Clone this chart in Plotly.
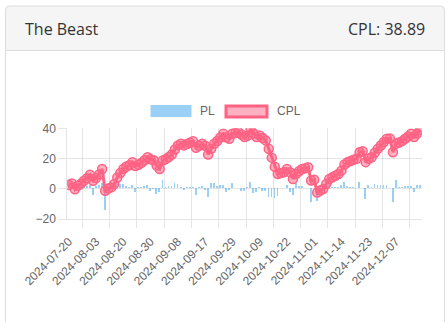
import plotly.graph_objects as go

W, H = 448, 322

dates = [
    "2024-07-20", "2024-07-21", "2024-07-23", "2024-07-24", "2024-07-26", "2024-07-27", "2024-07-29", "2024-07-30", "2024-08-01",
    "2024-08-03", "2024-08-05", "2024-08-07", "2024-08-09", "2024-08-11", "2024-08-13", "2024-08-15", "2024-08-16", "2024-08-18",
    "2024-08-20", "2024-08-21", "2024-08-22", "2024-08-23", "2024-08-24", "2024-08-26", "2024-08-27", "2024-08-28", "2024-08-29",
    "2024-08-30", "2024-08-31", "2024-09-01", "2024-09-02", "2024-09-03", "2024-09-04", "2024-09-05", "2024-09-06", "2024-09-07",
    "2024-09-08", "2024-09-09", "2024-09-10", "2024-09-11", "2024-09-12", "2024-09-13", "2024-09-14", "2024-09-15", "2024-09-16",
    "2024-09-17", "2024-09-18", "2024-09-19", "2024-09-21", "2024-09-22", "2024-09-23", "2024-09-25", "2024-09-26", "2024-09-27",
    "2024-09-29", "2024-09-30", "2024-10-01", "2024-10-02", "2024-10-03", "2024-10-04", "2024-10-05", "2024-10-07", "2024-10-08",
    "2024-10-09", "2024-10-10", "2024-10-12", "2024-10-13", "2024-10-15", "2024-10-16", "2024-10-17", "2024-10-19", "2024-10-20",
    "2024-10-22", "2024-10-23", "2024-10-24", "2024-10-25", "2024-10-26", "2024-10-28", "2024-10-29", "2024-10-30", "2024-10-31",
    "2024-11-01", "2024-11-02", "2024-11-04", "2024-11-05", "2024-11-07", "2024-11-08", "2024-11-09", "2024-11-11", "2024-11-12",
    "2024-11-14", "2024-11-15", "2024-11-16", "2024-11-17", "2024-11-18", "2024-11-19", "2024-11-20", "2024-11-21", "2024-11-22",
    "2024-11-23", "2024-11-25", "2024-11-26", "2024-11-28", "2024-11-29", "2024-12-01", "2024-12-02", "2024-12-04", "2024-12-05",
    "2024-12-07", "2024-12-08", "2024-12-09", "2024-12-10", "2024-12-11", "2024-12-12", "2024-12-13", "2024-12-14", "2024-12-15",
]

pl = [
    2.5, 1.0, -3.9, 2.4, 1.4, 1.9, 1.7, 2.3, -4.0, 1.8,
    2.3, 3.7, -14.4, 1.4, 0.8, 2.2, 4.4, 2.9, 2.7, 1.6,
    0.9, 2.0, -2.6, 0.9, 1.3, 1.7, 2.0, -1.4, -0.6, -3.5,
    -2.3, 5.6, 0.9, 1.4, 1.7, 3.3, 2.7, 1.1, -1.1, 0.9,
    0.8, 1.1, -4.4, 1.3, 1.4, -1.3, -5.8, 3.7, 3.4, 1.8,
    2.3, 2.5, -2.3, -1.0, 3.3, 0.5, 0.6, -1.6, -1.7, 0.8,
    4.6, -3.0, -2.4, 1.1, -1.7, -1.6, -5.6, -5.8, -6.0, -4.8,
    0.6, 0.5, 2.2, -2.1, -4.5, 3.3, 1.8, 1.5, 0.5, 0.6,
    -8.7, 0.5, -8.5, 1.3, 1.0, 3.3, 3.4, 1.1, 1.0, 1.2,
    2.2, 4.0, 1.5, 0.9, 0.8, 0.6, 4.4, 0.6, -7.2, 2.2,
    1.1, 2.9, 2.6, 2.2, 2.3, 2.2, 0.1, -9.0, 5.6, 0.8,
    0.9, 1.6, 1.5, 1.8, -2.2, 2.4, 2.29,
]

cpl = [
    2.5, 3.5, -0.4, 2.0, 3.4, 5.3, 7.0, 9.3, 5.3, 7.1,
    9.4, 13.1, -1.3, 0.1, 0.9, 3.1, 7.5, 10.4, 13.1, 14.7,
    15.6, 17.6, 15.0, 15.9, 17.2, 18.9, 20.9, 19.5, 18.9, 15.4,
    13.1, 18.7, 19.6, 21.0, 22.7, 26.0, 28.7, 29.8, 28.7, 29.6,
    30.4, 31.5, 27.1, 28.4, 29.8, 28.5, 22.7, 26.4, 29.8, 31.6,
    33.9, 36.4, 34.1, 33.1, 36.4, 36.9, 37.5, 35.9, 34.2, 35.0,
    39.6, 36.6, 34.2, 35.3, 33.6, 32.0, 26.4, 20.6, 14.6, 9.8,
    10.4, 10.9, 13.1, 11.0, 6.5, 9.8, 11.6, 13.1, 13.6, 14.2,
    5.5, 6.0, -2.5, -1.2, -0.2, 3.1, 6.5, 7.6, 8.6, 9.8,
    12.0, 16.0, 17.5, 18.4, 19.2, 19.8, 24.2, 24.8, 17.6, 19.8,
    20.9, 23.8, 26.4, 28.6, 30.9, 33.1, 33.2, 24.2, 29.8, 30.6,
    31.5, 33.1, 34.6, 36.4, 34.2, 36.6, 38.89,
]

y_ticks = [-20, 0, 20, 40]
label_step = 9
title_left = "The Beast"
title_right = "CPL: 38.89"
legend_names = ["PL", "CPL"]

BAR_COLOR = "rgba(54,162,235,0.5)"
LINE_COLOR = "rgb(255,99,132)"
LINE_FILL = "rgba(255,99,132,0.5)"
GRID = "rgba(0,0,0,0.1)"
TICKFONT = dict(family="Liberation Sans, Arial, sans-serif", size=12, color="#666")

idx = list(range(len(dates)))


def px(x):
    return x / W


def py(y):
    return 1 - y / H


fig = go.Figure()
fig.add_trace(go.Bar(x=idx, y=pl, name=legend_names[0], marker_color=BAR_COLOR,
                     marker_line_width=0, width=0.6))
fig.add_trace(go.Scatter(x=idx, y=cpl, name=legend_names[1], mode="lines+markers",
                         line=dict(color=LINE_COLOR, width=3),
                         marker=dict(size=9, color=LINE_FILL,
                                     line=dict(color=LINE_COLOR, width=1.5))))

x0p, x1p = 67.3, 421.7
ytop, ybot = 128.3, 219.0

shapes = []
r = 4
card_path = (f"M {px(5.5)},{py(340)} L {px(5.5)},{py(6+r)} Q {px(5.5)},{py(6)} {px(5.5+r)},{py(6)} "
             f"L {px(444.5-r)},{py(6)} Q {px(444.5)},{py(6)} {px(444.5)},{py(6+r)} L {px(444.5)},{py(340)}")
header_path = (f"M {px(5.5)},{py(50.5)} L {px(5.5)},{py(6+r)} Q {px(5.5)},{py(6)} {px(5.5+r)},{py(6)} "
               f"L {px(444.5-r)},{py(6)} Q {px(444.5)},{py(6)} {px(444.5)},{py(6+r)} L {px(444.5)},{py(50.5)} Z")
shapes.append(dict(type="path", xref="paper", yref="paper", path=header_path,
                   fillcolor="#f5f5f5", line=dict(width=0), layer="below"))
shapes.append(dict(type="path", xref="paper", yref="paper", path=card_path,
                   line=dict(color="#dddddd", width=1), layer="below"))
shapes.append(dict(type="line", xref="paper", yref="paper", x0=px(5.5), x1=px(444.5),
                   y0=py(50.5), y1=py(50.5), line=dict(color="#dddddd", width=1), layer="below"))
shapes.append(dict(type="rect", xref="paper", yref="paper", x0=px(150.5), x1=px(191.5),
                   y0=py(105), y1=py(117), fillcolor=BAR_COLOR, line=dict(width=0)))
shapes.append(dict(type="rect", xref="paper", yref="paper", x0=px(226), x1=px(267),
                   y0=py(106), y1=py(117), fillcolor=LINE_FILL, line=dict(color=LINE_COLOR, width=3)))

annotations = [
    dict(text=title_left, xref="paper", yref="paper", x=px(23), y=py(29), xanchor="left",
         yanchor="middle", showarrow=False,
         font=dict(family="Open Sans, sans-serif", size=16, color="#333")),
    dict(text=title_right, xref="paper", yref="paper", x=px(427), y=py(29), xanchor="right",
         yanchor="middle", showarrow=False,
         font=dict(family="Open Sans, sans-serif", size=16, color="#333")),
    dict(text=legend_names[0], xref="paper", yref="paper", x=px(198), y=py(111), xanchor="left",
         yanchor="middle", showarrow=False, font=TICKFONT),
    dict(text=legend_names[1], xref="paper", yref="paper", x=px(274.5), y=py(111), xanchor="left",
         yanchor="middle", showarrow=False, font=TICKFONT),
]

label_vals = idx[::label_step]
grid_vals = [v + label_step / 2 for v in label_vals]

fig.update_layout(
    width=W, height=H, autosize=False,
    margin=dict(l=0, r=0, t=0, b=0, pad=0),
    paper_bgcolor="white", plot_bgcolor="rgba(0,0,0,0)",
    showlegend=False, bargap=0,
    shapes=shapes, annotations=annotations,
    xaxis=dict(
        domain=[px(x0p), px(x1p)], range=[-0.5, len(dates) - 0.5], automargin=False,
        tickmode="array", tickvals=label_vals, ticktext=[dates[i] for i in label_vals],
        tickangle=-45, tickfont=TICKFONT, showgrid=False, ticks="outside", ticklen=10,
        tickcolor="rgba(0,0,0,0)", showline=True, linecolor=GRID, linewidth=1,
        zeroline=False,
        minor=dict(tickmode="array", tickvals=grid_vals, showgrid=True, gridcolor=GRID,
                   gridwidth=1, ticks="outside", ticklen=8, tickcolor=GRID),
    ),
    yaxis=dict(
        domain=[py(ybot), py(ytop)], range=[-20, 40], automargin=False,
        tickmode="array", tickvals=y_ticks, tickfont=TICKFONT,
        showgrid=True, gridcolor=GRID, gridwidth=1, zeroline=False,
        ticks="outside", ticklen=8, tickcolor=GRID,
        showline=True, linecolor=GRID, linewidth=1,
    ),
)

fig.write_html("out.html")
